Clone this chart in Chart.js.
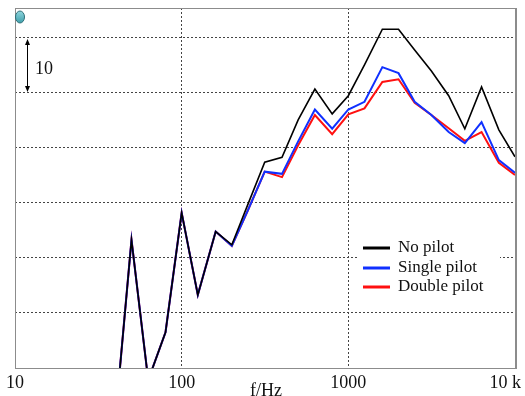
<!DOCTYPE html>
<html>
<head>
<meta charset="utf-8">
<script src="https://cdn.jsdelivr.net/npm/chart.js@4"></script>
<style>
  body { margin: 0; background: #fff; }
  canvas { display: block; }
</style>
</head>
<body>
<canvas id="chart" width="525" height="396"></canvas>
<script>
// 1/3 octave bands, level in dB above the bottom of the plot
const freqs = [40, 50, 63, 80, 100, 125, 160, 200, 250, 315, 400, 500, 630, 800, 1000, 1250, 1600, 2000, 2500, 3150, 4000, 5000, 6300, 8000, 10000];
const noPilot = [-9.3, 23.3, -2.2, 6.5, 28.2, 13.3, 24.8, 22.4, 29.8, 37.4, 38.3, 45.1, 50.7, 46.2, 49.5, 55.1, 61.6, 61.6, 57.8, 54.0, 49.5, 43.5, 51.1, 43.3, 38.4];
const singlePilot = [-9.3, 23.3, -2.2, 6.5, 28.2, 13.3, 24.8, 22.2, 28.7, 35.7, 35.3, 41.2, 47.0, 43.5, 47.0, 48.4, 54.7, 53.6, 48.4, 46.0, 42.9, 40.9, 44.7, 37.8, 35.5];
const doublePilot = [-9.3, 23.3, -2.2, 6.5, 28.2, 13.3, 24.8, 22.2, 28.7, 35.7, 34.7, 40.5, 46.0, 42.5, 46.1, 47.2, 52.0, 52.5, 48.2, 46.0, 43.6, 41.3, 42.9, 37.3, 35.1];
const seriesNames = ['No pilot', 'Single pilot', 'Double pilot'];
const xTicks = [10, 100, 1000, 10000];
const xTickLabels = ['10', '100', '1000', '10 k'];
const yTicks = [0, 10, 20, 30, 40, 50, 60];

const serif = '"Liberation Serif", "DejaVu Serif", serif';

function pts(vals) {
  return freqs.map((f, i) => ({ x: f, y: vals[i] }));
}

const extras = {
  id: 'extras',
  afterDraw(chart) {
    const ctx = chart.ctx;
    const a = chart.chartArea;
    const xs = chart.scales.x;
    const ys = chart.scales.y;
    ctx.save();

    // frame
    ctx.strokeStyle = '#8c8c8c';
    ctx.lineWidth = 1;
    ctx.strokeRect(a.left + 0.5, a.top + 0.5, a.right - a.left, a.bottom - a.top);
    ctx.lineWidth = 2;
    ctx.beginPath();
    ctx.moveTo(a.right + 1, a.top);
    ctx.lineTo(a.right + 1, a.bottom + 1);
    ctx.stroke();

    // x tick labels
    ctx.fillStyle = '#111';
    ctx.font = '18px ' + serif;
    ctx.textBaseline = 'middle';
    xTicks.forEach((v, i) => {
      const px = xs.getPixelForValue(v);
      if (i === xTicks.length - 1) {
        ctx.textAlign = 'right';
        ctx.fillText(xTickLabels[i], px + 6, a.bottom + 15);
      } else {
        ctx.textAlign = 'center';
        ctx.fillText(xTickLabels[i], px, a.bottom + 15);
      }
    });
    ctx.textAlign = 'center';
    ctx.fillText('f/Hz', 266, a.bottom + 23);

    // 10 dB scale arrow
    const y1 = ys.getPixelForValue(60), y2 = ys.getPixelForValue(50);
    const ax = a.left + 12;
    ctx.strokeStyle = '#000';
    ctx.lineWidth = 1;
    ctx.beginPath();
    ctx.moveTo(ax + 0.5, y1 + 2);
    ctx.lineTo(ax + 0.5, y2 - 2);
    ctx.stroke();
    ctx.fillStyle = '#000';
    ctx.beginPath();
    ctx.moveTo(ax + 0.5, y1 + 1); ctx.lineTo(ax - 2, y1 + 7); ctx.lineTo(ax + 3, y1 + 7);
    ctx.closePath(); ctx.fill();
    ctx.beginPath();
    ctx.moveTo(ax + 0.5, y2 - 1); ctx.lineTo(ax - 2, y2 - 7); ctx.lineTo(ax + 3, y2 - 7);
    ctx.closePath(); ctx.fill();
    ctx.textAlign = 'left';
    ctx.fillStyle = '#111';
    ctx.fillText('10', ax + 8, (y1 + y2) / 2 + 4);

    // small teal marker top-left
    const g = ctx.createLinearGradient(a.left, a.top + 3, a.left, a.top + 15);
    g.addColorStop(0, '#8fd6de');
    g.addColorStop(1, '#3f9fab');
    ctx.fillStyle = g;
    ctx.strokeStyle = '#2f6f78';
    ctx.lineWidth = 1;
    ctx.beginPath();
    ctx.ellipse(a.left + 5, a.top + 9, 4.5, 6, 0, 0, Math.PI * 2);
    ctx.fill();
    ctx.stroke();

    // legend
    ctx.fillStyle = '#fff';
    ctx.fillRect(358, 238, 142, 58);
    ctx.font = '17px ' + serif;
    ctx.textAlign = 'left';
    ctx.textBaseline = 'middle';
    const rows = [248, 268, 287];
    chart.data.datasets.forEach((ds, i) => {
      ctx.strokeStyle = ds.borderColor;
      ctx.lineWidth = 3;
      ctx.beginPath();
      ctx.moveTo(363, rows[i]);
      ctx.lineTo(390, rows[i]);
      ctx.stroke();
      ctx.fillStyle = '#111';
      ctx.fillText(ds.label, 398, rows[i]);
    });
    ctx.restore();
  }
};

new Chart(document.getElementById('chart'), {
  type: 'line',
  data: {
    datasets: [
      { label: seriesNames[0], data: pts(noPilot), borderColor: '#000000', borderWidth: 1.6 },
      { label: seriesNames[1], data: pts(singlePilot), borderColor: '#1030ff', borderWidth: 2 },
      { label: seriesNames[2], data: pts(doublePilot), borderColor: '#ff1010', borderWidth: 2 }
    ]
  },
  options: {
    responsive: false,
    animation: false,
    layout: { padding: { left: 15, right: 10, top: 8, bottom: 0 } },
    elements: { point: { radius: 0 }, line: { tension: 0 } },
    plugins: { legend: { display: false }, tooltip: { enabled: false } },
    scales: {
      x: {
        type: 'logarithmic',
        min: 10,
        max: 10000,
        afterBuildTicks: s => { s.ticks = xTicks.map(v => ({ value: v })); },
        afterFit: s => { s.height = 28; },
        ticks: { display: false },
        grid: {
          drawTicks: false,
          color: c => (c.tick && (c.tick.value === 100 || c.tick.value === 1000)) ? '#444' : 'rgba(0,0,0,0)'
        },
        border: { display: false, dash: [2, 2] }
      },
      y: {
        min: 0,
        max: 65.45,
        afterBuildTicks: s => { s.ticks = yTicks.map(v => ({ value: v })); },
        afterFit: s => { s.width = 0; },
        ticks: { display: false },
        grid: {
          drawTicks: false,
          color: c => (c.tick && c.tick.value === 0) ? 'rgba(0,0,0,0)' : '#444'
        },
        border: { display: false, dash: [2, 2] }
      }
    }
  },
  plugins: [extras]
});
</script>
</body>
</html>
